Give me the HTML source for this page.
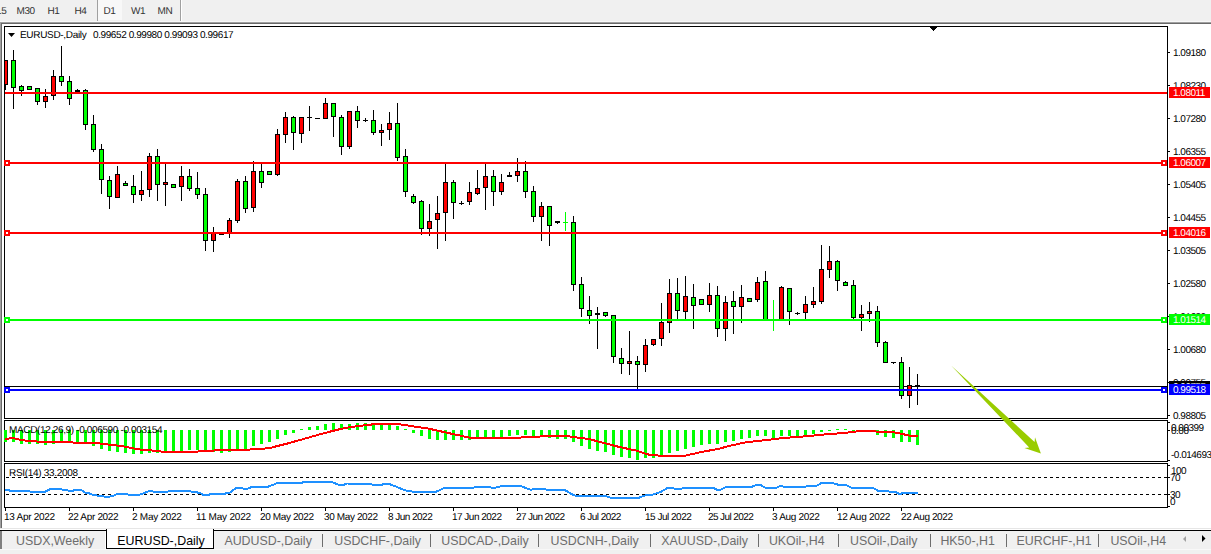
<!DOCTYPE html>
<html><head><meta charset="utf-8"><style>
html,body{margin:0;padding:0}
body{width:1211px;height:554px;position:relative;overflow:hidden;background:#f0f0f0;font-family:"Liberation Sans", sans-serif}
.t{position:absolute;white-space:nowrap;line-height:12px;font-family:"Liberation Sans", sans-serif;text-rendering:geometricPrecision}
.box{position:absolute;left:1169px;width:41px;height:11px;overflow:hidden}
.box span{position:absolute;left:4px;top:1px;text-rendering:geometricPrecision;font-size:10px;letter-spacing:-0.5px;line-height:12px;color:#fff;white-space:nowrap}
.tab{position:absolute;top:534px;font-size:12.4px;line-height:15px;color:#6d6d6d;white-space:nowrap}
svg{position:absolute;left:0;top:0}
</style></head><body>
<div style="position:absolute;left:97px;top:0;width:1px;height:21px;background:#a0a0a0"></div>
<div style="position:absolute;left:98px;top:0;width:24px;height:20px;background:#f8f8f8"></div>
<div style="position:absolute;left:180px;top:0;width:1px;height:21px;background:#a0a0a0"></div>
<div style="position:absolute;left:181px;top:0;width:1px;height:21px;background:#fff"></div>
<div style="position:absolute;left:0;top:21px;width:1211px;height:1px;background:#f8f8f8"></div>
<div style="position:absolute;left:0;top:22px;width:1211px;height:1px;background:#a0a0a0"></div>
<div style="position:absolute;left:1px;top:23px;width:1210px;height:1px;background:#696969"></div>
<div style="position:absolute;left:0;top:22px;width:1px;height:506px;background:#a0a0a0"></div>
<div style="position:absolute;left:1px;top:23px;width:1px;height:505px;background:#696969"></div>
<div style="position:absolute;left:2px;top:24px;width:1209px;height:504px;background:#fff"></div>
<div style="position:absolute;left:0;top:528px;width:1211px;height:1px;background:#e6e6e6"></div>
<div style="position:absolute;left:0;top:529px;width:1211px;height:1px;background:#fff"></div>
<div style="position:absolute;left:0;top:530px;width:1211px;height:1px;background:#000"></div>
<div style="position:absolute;left:0;top:531px;width:2px;height:18px;background:#808080"></div>
<div style="position:absolute;left:105px;top:531px;width:1px;height:18px;background:#fff"></div>
<div style="position:absolute;left:0;top:549px;width:1211px;height:1px;background:#f8f8f8"></div>
<div style="position:absolute;left:106px;top:529px;width:108px;height:20px;background:#000"></div>
<div style="position:absolute;left:107px;top:529px;width:106px;height:19px;background:#fff"></div>
<div class="tab" style="left:117.3px;color:#000">EURUSD-,Daily</div>
<div class="tab" style="left:16px">USDX,Weekly</div><div class="tab" style="left:224.4px">AUDUSD-,Daily</div><div class="tab" style="left:334.2px">USDCHF-,Daily</div><div class="tab" style="left:441.2px">USDCAD-,Daily</div><div class="tab" style="left:550.6px">USDCNH-,Daily</div><div class="tab" style="left:661.3px">XAUUSD-,Daily</div><div class="tab" style="left:768.9px">UKOil-,H4</div><div class="tab" style="left:850px">USOil-,Daily</div><div class="tab" style="left:940.4px">HK50-,H1</div><div class="tab" style="left:1016.5px">EURCHF-,H1</div><div class="tab" style="left:1110.4px">USOil-,H4</div><div style="position:absolute;left:322px;top:534px;width:1px;height:13px;background:#6d6d6d"></div><div style="position:absolute;left:430px;top:534px;width:1px;height:13px;background:#6d6d6d"></div><div style="position:absolute;left:538px;top:534px;width:1px;height:13px;background:#6d6d6d"></div><div style="position:absolute;left:650px;top:534px;width:1px;height:13px;background:#6d6d6d"></div><div style="position:absolute;left:758px;top:534px;width:1px;height:13px;background:#6d6d6d"></div><div style="position:absolute;left:838px;top:534px;width:1px;height:13px;background:#6d6d6d"></div><div style="position:absolute;left:930px;top:534px;width:1px;height:13px;background:#6d6d6d"></div><div style="position:absolute;left:1006px;top:534px;width:1px;height:13px;background:#6d6d6d"></div><div style="position:absolute;left:1098px;top:534px;width:1px;height:13px;background:#6d6d6d"></div>
<svg width="1211" height="554" viewBox="0 0 1211 554" style="shape-rendering:crispEdges">
<rect x="5" y="386" width="1162" height="1" fill="#000"/>
<rect x="5" y="60" width="1" height="30" fill="#000"/>
<rect x="4" y="60" width="4" height="25" fill="#000"/>
<rect x="4" y="61" width="3" height="23" fill="#ff0000"/>
<rect x="13" y="50" width="1" height="59" fill="#000"/>
<rect x="11" y="60" width="5" height="28" fill="#000"/>
<rect x="12" y="61" width="3" height="26" fill="#00ff00"/>
<rect x="21" y="85" width="1" height="11" fill="#000"/>
<rect x="19" y="86" width="5" height="5" fill="#000"/>
<rect x="20" y="87" width="3" height="3" fill="#00ff00"/>
<rect x="29" y="86" width="1" height="4" fill="#000"/>
<rect x="27" y="86" width="5" height="4" fill="#000"/>
<rect x="28" y="87" width="3" height="2" fill="#00ff00"/>
<rect x="37" y="88" width="1" height="17" fill="#000"/>
<rect x="35" y="88" width="5" height="14" fill="#000"/>
<rect x="36" y="89" width="3" height="12" fill="#00ff00"/>
<rect x="45" y="89" width="1" height="19" fill="#000"/>
<rect x="43" y="96" width="5" height="6" fill="#000"/>
<rect x="44" y="97" width="3" height="4" fill="#ff0000"/>
<rect x="53" y="70" width="1" height="30" fill="#000"/>
<rect x="51" y="76" width="5" height="20" fill="#000"/>
<rect x="52" y="77" width="3" height="18" fill="#ff0000"/>
<rect x="61" y="46" width="1" height="40" fill="#000"/>
<rect x="59" y="76" width="5" height="6" fill="#000"/>
<rect x="60" y="77" width="3" height="4" fill="#00ff00"/>
<rect x="69" y="76" width="1" height="29" fill="#000"/>
<rect x="67" y="81" width="5" height="18" fill="#000"/>
<rect x="68" y="82" width="3" height="16" fill="#00ff00"/>
<rect x="77" y="89" width="1" height="3" fill="#000"/>
<rect x="75" y="90" width="5" height="2" fill="#000"/>
<rect x="85" y="89" width="1" height="41" fill="#000"/>
<rect x="83" y="90" width="5" height="35" fill="#000"/>
<rect x="84" y="91" width="3" height="33" fill="#00ff00"/>
<rect x="93" y="115" width="1" height="37" fill="#000"/>
<rect x="91" y="124" width="5" height="26" fill="#000"/>
<rect x="92" y="125" width="3" height="24" fill="#00ff00"/>
<rect x="101" y="144" width="1" height="50" fill="#000"/>
<rect x="99" y="149" width="5" height="31" fill="#000"/>
<rect x="100" y="150" width="3" height="29" fill="#00ff00"/>
<rect x="109" y="176" width="1" height="33" fill="#000"/>
<rect x="107" y="180" width="5" height="17" fill="#000"/>
<rect x="108" y="181" width="3" height="15" fill="#00ff00"/>
<rect x="117" y="166" width="1" height="32" fill="#000"/>
<rect x="115" y="174" width="5" height="24" fill="#000"/>
<rect x="116" y="175" width="3" height="22" fill="#ff0000"/>
<rect x="125" y="181" width="1" height="5" fill="#000"/>
<rect x="123" y="183" width="5" height="3" fill="#000"/>
<rect x="124" y="184" width="3" height="1" fill="#00ff00"/>
<rect x="133" y="175" width="1" height="28" fill="#000"/>
<rect x="131" y="186" width="5" height="9" fill="#000"/>
<rect x="132" y="187" width="3" height="7" fill="#00ff00"/>
<rect x="141" y="171" width="1" height="30" fill="#000"/>
<rect x="139" y="190" width="5" height="5" fill="#000"/>
<rect x="140" y="191" width="3" height="3" fill="#ff0000"/>
<rect x="149" y="153" width="1" height="44" fill="#000"/>
<rect x="147" y="156" width="5" height="34" fill="#000"/>
<rect x="148" y="157" width="3" height="32" fill="#ff0000"/>
<rect x="157" y="149" width="1" height="52" fill="#000"/>
<rect x="155" y="156" width="5" height="29" fill="#000"/>
<rect x="156" y="157" width="3" height="27" fill="#00ff00"/>
<rect x="165" y="164" width="1" height="42" fill="#000"/>
<rect x="163" y="182" width="5" height="3" fill="#000"/>
<rect x="164" y="183" width="3" height="1" fill="#ff0000"/>
<rect x="173" y="184" width="1" height="4" fill="#000"/>
<rect x="171" y="184" width="5" height="4" fill="#000"/>
<rect x="172" y="185" width="3" height="2" fill="#00ff00"/>
<rect x="181" y="166" width="1" height="35" fill="#000"/>
<rect x="179" y="176" width="5" height="11" fill="#000"/>
<rect x="180" y="177" width="3" height="9" fill="#ff0000"/>
<rect x="189" y="169" width="1" height="22" fill="#000"/>
<rect x="187" y="176" width="5" height="13" fill="#000"/>
<rect x="188" y="177" width="3" height="11" fill="#00ff00"/>
<rect x="197" y="172" width="1" height="27" fill="#000"/>
<rect x="195" y="188" width="5" height="7" fill="#000"/>
<rect x="196" y="189" width="3" height="5" fill="#00ff00"/>
<rect x="205" y="188" width="1" height="63" fill="#000"/>
<rect x="203" y="194" width="5" height="47" fill="#000"/>
<rect x="204" y="195" width="3" height="45" fill="#00ff00"/>
<rect x="213" y="227" width="1" height="25" fill="#000"/>
<rect x="211" y="233" width="5" height="8" fill="#000"/>
<rect x="212" y="234" width="3" height="6" fill="#ff0000"/>
<rect x="221" y="233" width="1" height="2" fill="#000"/>
<rect x="219" y="234" width="5" height="1" fill="#000"/>
<rect x="229" y="218" width="1" height="20" fill="#000"/>
<rect x="227" y="220" width="5" height="14" fill="#000"/>
<rect x="228" y="221" width="3" height="12" fill="#ff0000"/>
<rect x="237" y="179" width="1" height="44" fill="#000"/>
<rect x="235" y="181" width="5" height="40" fill="#000"/>
<rect x="236" y="182" width="3" height="38" fill="#ff0000"/>
<rect x="245" y="176" width="1" height="37" fill="#000"/>
<rect x="243" y="181" width="5" height="28" fill="#000"/>
<rect x="244" y="182" width="3" height="26" fill="#00ff00"/>
<rect x="253" y="161" width="1" height="51" fill="#000"/>
<rect x="251" y="171" width="5" height="37" fill="#000"/>
<rect x="252" y="172" width="3" height="35" fill="#ff0000"/>
<rect x="261" y="164" width="1" height="24" fill="#000"/>
<rect x="259" y="171" width="5" height="12" fill="#000"/>
<rect x="260" y="172" width="3" height="10" fill="#00ff00"/>
<rect x="269" y="171" width="1" height="4" fill="#000"/>
<rect x="267" y="171" width="5" height="4" fill="#000"/>
<rect x="268" y="172" width="3" height="2" fill="#00ff00"/>
<rect x="277" y="129" width="1" height="47" fill="#000"/>
<rect x="275" y="134" width="5" height="41" fill="#000"/>
<rect x="276" y="135" width="3" height="39" fill="#ff0000"/>
<rect x="285" y="112" width="1" height="31" fill="#000"/>
<rect x="283" y="117" width="5" height="18" fill="#000"/>
<rect x="284" y="118" width="3" height="16" fill="#ff0000"/>
<rect x="293" y="116" width="1" height="34" fill="#000"/>
<rect x="291" y="117" width="5" height="16" fill="#000"/>
<rect x="292" y="118" width="3" height="14" fill="#00ff00"/>
<rect x="301" y="117" width="1" height="26" fill="#000"/>
<rect x="299" y="117" width="5" height="17" fill="#000"/>
<rect x="300" y="118" width="3" height="15" fill="#ff0000"/>
<rect x="309" y="106" width="1" height="25" fill="#000"/>
<rect x="307" y="117" width="5" height="1" fill="#000"/>
<rect x="317" y="118" width="1" height="1" fill="#000"/>
<rect x="315" y="118" width="5" height="1" fill="#000"/>
<rect x="325" y="98" width="1" height="21" fill="#000"/>
<rect x="323" y="103" width="5" height="16" fill="#000"/>
<rect x="324" y="104" width="3" height="14" fill="#ff0000"/>
<rect x="333" y="103" width="1" height="34" fill="#000"/>
<rect x="331" y="103" width="5" height="14" fill="#000"/>
<rect x="332" y="104" width="3" height="12" fill="#00ff00"/>
<rect x="341" y="115" width="1" height="40" fill="#000"/>
<rect x="339" y="117" width="5" height="30" fill="#000"/>
<rect x="340" y="118" width="3" height="28" fill="#00ff00"/>
<rect x="349" y="111" width="1" height="38" fill="#000"/>
<rect x="347" y="111" width="5" height="36" fill="#000"/>
<rect x="348" y="112" width="3" height="34" fill="#ff0000"/>
<rect x="357" y="106" width="1" height="22" fill="#000"/>
<rect x="355" y="111" width="5" height="10" fill="#000"/>
<rect x="356" y="112" width="3" height="8" fill="#00ff00"/>
<rect x="365" y="118" width="1" height="4" fill="#000"/>
<rect x="363" y="120" width="5" height="1" fill="#000"/>
<rect x="373" y="110" width="1" height="25" fill="#000"/>
<rect x="371" y="120" width="5" height="13" fill="#000"/>
<rect x="372" y="121" width="3" height="11" fill="#00ff00"/>
<rect x="381" y="124" width="1" height="22" fill="#000"/>
<rect x="379" y="130" width="5" height="3" fill="#000"/>
<rect x="380" y="131" width="3" height="1" fill="#ff0000"/>
<rect x="389" y="112" width="1" height="28" fill="#000"/>
<rect x="387" y="123" width="5" height="7" fill="#000"/>
<rect x="388" y="124" width="3" height="5" fill="#ff0000"/>
<rect x="397" y="103" width="1" height="58" fill="#000"/>
<rect x="395" y="123" width="5" height="35" fill="#000"/>
<rect x="396" y="124" width="3" height="33" fill="#00ff00"/>
<rect x="405" y="149" width="1" height="48" fill="#000"/>
<rect x="403" y="156" width="5" height="36" fill="#000"/>
<rect x="404" y="157" width="3" height="34" fill="#00ff00"/>
<rect x="413" y="194" width="1" height="10" fill="#000"/>
<rect x="411" y="196" width="5" height="7" fill="#000"/>
<rect x="412" y="197" width="3" height="5" fill="#00ff00"/>
<rect x="421" y="200" width="1" height="35" fill="#000"/>
<rect x="419" y="201" width="5" height="28" fill="#000"/>
<rect x="420" y="202" width="3" height="26" fill="#00ff00"/>
<rect x="429" y="204" width="1" height="32" fill="#000"/>
<rect x="427" y="221" width="5" height="8" fill="#000"/>
<rect x="428" y="222" width="3" height="6" fill="#ff0000"/>
<rect x="437" y="196" width="1" height="53" fill="#000"/>
<rect x="435" y="213" width="5" height="7" fill="#000"/>
<rect x="436" y="214" width="3" height="5" fill="#ff0000"/>
<rect x="445" y="163" width="1" height="78" fill="#000"/>
<rect x="443" y="182" width="5" height="31" fill="#000"/>
<rect x="444" y="183" width="3" height="29" fill="#ff0000"/>
<rect x="453" y="180" width="1" height="39" fill="#000"/>
<rect x="451" y="182" width="5" height="21" fill="#000"/>
<rect x="452" y="183" width="3" height="19" fill="#00ff00"/>
<rect x="461" y="201" width="1" height="4" fill="#000"/>
<rect x="459" y="203" width="5" height="1" fill="#000"/>
<rect x="469" y="182" width="1" height="23" fill="#000"/>
<rect x="467" y="192" width="5" height="10" fill="#000"/>
<rect x="468" y="193" width="3" height="8" fill="#ff0000"/>
<rect x="477" y="170" width="1" height="25" fill="#000"/>
<rect x="475" y="188" width="5" height="6" fill="#000"/>
<rect x="476" y="189" width="3" height="4" fill="#ff0000"/>
<rect x="485" y="164" width="1" height="46" fill="#000"/>
<rect x="483" y="176" width="5" height="12" fill="#000"/>
<rect x="484" y="177" width="3" height="10" fill="#ff0000"/>
<rect x="493" y="170" width="1" height="36" fill="#000"/>
<rect x="491" y="176" width="5" height="16" fill="#000"/>
<rect x="492" y="177" width="3" height="14" fill="#00ff00"/>
<rect x="501" y="174" width="1" height="21" fill="#000"/>
<rect x="499" y="182" width="5" height="10" fill="#000"/>
<rect x="500" y="183" width="3" height="8" fill="#ff0000"/>
<rect x="509" y="172" width="1" height="5" fill="#000"/>
<rect x="507" y="175" width="5" height="2" fill="#000"/>
<rect x="517" y="158" width="1" height="24" fill="#000"/>
<rect x="515" y="171" width="5" height="5" fill="#000"/>
<rect x="516" y="172" width="3" height="3" fill="#ff0000"/>
<rect x="525" y="161" width="1" height="37" fill="#000"/>
<rect x="523" y="171" width="5" height="21" fill="#000"/>
<rect x="524" y="172" width="3" height="19" fill="#00ff00"/>
<rect x="533" y="186" width="1" height="36" fill="#000"/>
<rect x="531" y="191" width="5" height="26" fill="#000"/>
<rect x="532" y="192" width="3" height="24" fill="#00ff00"/>
<rect x="541" y="202" width="1" height="39" fill="#000"/>
<rect x="539" y="206" width="5" height="11" fill="#000"/>
<rect x="540" y="207" width="3" height="9" fill="#ff0000"/>
<rect x="549" y="206" width="1" height="40" fill="#000"/>
<rect x="547" y="206" width="5" height="20" fill="#000"/>
<rect x="548" y="207" width="3" height="18" fill="#00ff00"/>
<rect x="557" y="221" width="1" height="3" fill="#000"/>
<rect x="555" y="221" width="5" height="2" fill="#000"/>
<rect x="565" y="212" width="1" height="19" fill="#00ff00"/>
<rect x="563" y="222" width="5" height="1" fill="#00ff00"/>
<rect x="573" y="216" width="1" height="75" fill="#000"/>
<rect x="571" y="222" width="5" height="63" fill="#000"/>
<rect x="572" y="223" width="3" height="61" fill="#00ff00"/>
<rect x="581" y="277" width="1" height="40" fill="#000"/>
<rect x="579" y="284" width="5" height="25" fill="#000"/>
<rect x="580" y="285" width="3" height="23" fill="#00ff00"/>
<rect x="589" y="296" width="1" height="28" fill="#000"/>
<rect x="587" y="310" width="5" height="6" fill="#000"/>
<rect x="588" y="311" width="3" height="4" fill="#00ff00"/>
<rect x="597" y="307" width="1" height="42" fill="#000"/>
<rect x="595" y="313" width="5" height="2" fill="#000"/>
<rect x="605" y="312" width="1" height="5" fill="#000"/>
<rect x="603" y="312" width="5" height="4" fill="#000"/>
<rect x="604" y="313" width="3" height="2" fill="#00ff00"/>
<rect x="613" y="315" width="1" height="48" fill="#000"/>
<rect x="611" y="315" width="5" height="42" fill="#000"/>
<rect x="612" y="316" width="3" height="40" fill="#00ff00"/>
<rect x="621" y="348" width="1" height="26" fill="#000"/>
<rect x="619" y="358" width="5" height="6" fill="#000"/>
<rect x="620" y="359" width="3" height="4" fill="#00ff00"/>
<rect x="629" y="331" width="1" height="44" fill="#000"/>
<rect x="627" y="361" width="5" height="3" fill="#000"/>
<rect x="628" y="362" width="3" height="1" fill="#ff0000"/>
<rect x="637" y="356" width="1" height="33" fill="#000"/>
<rect x="635" y="361" width="5" height="4" fill="#000"/>
<rect x="636" y="362" width="3" height="2" fill="#00ff00"/>
<rect x="645" y="339" width="1" height="33" fill="#000"/>
<rect x="643" y="345" width="5" height="20" fill="#000"/>
<rect x="644" y="346" width="3" height="18" fill="#ff0000"/>
<rect x="653" y="339" width="1" height="7" fill="#000"/>
<rect x="651" y="339" width="5" height="6" fill="#000"/>
<rect x="652" y="340" width="3" height="4" fill="#ff0000"/>
<rect x="661" y="303" width="1" height="43" fill="#000"/>
<rect x="659" y="322" width="5" height="17" fill="#000"/>
<rect x="660" y="323" width="3" height="15" fill="#ff0000"/>
<rect x="669" y="279" width="1" height="54" fill="#000"/>
<rect x="667" y="293" width="5" height="30" fill="#000"/>
<rect x="668" y="294" width="3" height="28" fill="#ff0000"/>
<rect x="677" y="278" width="1" height="41" fill="#000"/>
<rect x="675" y="293" width="5" height="18" fill="#000"/>
<rect x="676" y="294" width="3" height="16" fill="#00ff00"/>
<rect x="685" y="276" width="1" height="43" fill="#000"/>
<rect x="683" y="296" width="5" height="16" fill="#000"/>
<rect x="684" y="297" width="3" height="14" fill="#ff0000"/>
<rect x="693" y="284" width="1" height="45" fill="#000"/>
<rect x="691" y="297" width="5" height="9" fill="#000"/>
<rect x="692" y="298" width="3" height="7" fill="#00ff00"/>
<rect x="701" y="299" width="1" height="6" fill="#000"/>
<rect x="699" y="299" width="5" height="6" fill="#000"/>
<rect x="700" y="300" width="3" height="4" fill="#00ff00"/>
<rect x="709" y="283" width="1" height="29" fill="#000"/>
<rect x="707" y="295" width="5" height="10" fill="#000"/>
<rect x="708" y="296" width="3" height="8" fill="#ff0000"/>
<rect x="717" y="286" width="1" height="51" fill="#000"/>
<rect x="715" y="295" width="5" height="34" fill="#000"/>
<rect x="716" y="296" width="3" height="32" fill="#00ff00"/>
<rect x="725" y="296" width="1" height="45" fill="#000"/>
<rect x="723" y="302" width="5" height="27" fill="#000"/>
<rect x="724" y="303" width="3" height="25" fill="#ff0000"/>
<rect x="733" y="291" width="1" height="43" fill="#000"/>
<rect x="731" y="301" width="5" height="6" fill="#000"/>
<rect x="732" y="302" width="3" height="4" fill="#00ff00"/>
<rect x="741" y="285" width="1" height="38" fill="#000"/>
<rect x="739" y="297" width="5" height="10" fill="#000"/>
<rect x="740" y="298" width="3" height="8" fill="#ff0000"/>
<rect x="749" y="298" width="1" height="4" fill="#000"/>
<rect x="747" y="298" width="5" height="4" fill="#000"/>
<rect x="748" y="299" width="3" height="2" fill="#00ff00"/>
<rect x="757" y="277" width="1" height="25" fill="#000"/>
<rect x="755" y="282" width="5" height="18" fill="#000"/>
<rect x="756" y="283" width="3" height="16" fill="#ff0000"/>
<rect x="765" y="271" width="1" height="49" fill="#000"/>
<rect x="763" y="281" width="5" height="39" fill="#000"/>
<rect x="764" y="282" width="3" height="37" fill="#00ff00"/>
<rect x="773" y="300" width="1" height="31" fill="#00ff00"/>
<rect x="771" y="320" width="5" height="1" fill="#00ff00"/>
<rect x="781" y="286" width="1" height="34" fill="#000"/>
<rect x="779" y="287" width="5" height="33" fill="#000"/>
<rect x="780" y="288" width="3" height="31" fill="#ff0000"/>
<rect x="789" y="288" width="1" height="37" fill="#000"/>
<rect x="787" y="288" width="5" height="24" fill="#000"/>
<rect x="788" y="289" width="3" height="22" fill="#00ff00"/>
<rect x="797" y="312" width="1" height="3" fill="#000"/>
<rect x="795" y="313" width="5" height="1" fill="#000"/>
<rect x="805" y="296" width="1" height="24" fill="#000"/>
<rect x="803" y="304" width="5" height="9" fill="#000"/>
<rect x="804" y="305" width="3" height="7" fill="#ff0000"/>
<rect x="813" y="287" width="1" height="21" fill="#000"/>
<rect x="811" y="301" width="5" height="4" fill="#000"/>
<rect x="812" y="302" width="3" height="2" fill="#ff0000"/>
<rect x="821" y="245" width="1" height="59" fill="#000"/>
<rect x="819" y="269" width="5" height="33" fill="#000"/>
<rect x="820" y="270" width="3" height="31" fill="#ff0000"/>
<rect x="829" y="246" width="1" height="32" fill="#000"/>
<rect x="827" y="261" width="5" height="9" fill="#000"/>
<rect x="828" y="262" width="3" height="7" fill="#ff0000"/>
<rect x="837" y="260" width="1" height="31" fill="#000"/>
<rect x="835" y="261" width="5" height="20" fill="#000"/>
<rect x="836" y="262" width="3" height="18" fill="#00ff00"/>
<rect x="845" y="281" width="1" height="5" fill="#000"/>
<rect x="843" y="282" width="5" height="4" fill="#000"/>
<rect x="844" y="283" width="3" height="2" fill="#00ff00"/>
<rect x="853" y="280" width="1" height="39" fill="#000"/>
<rect x="851" y="285" width="5" height="33" fill="#000"/>
<rect x="852" y="286" width="3" height="31" fill="#00ff00"/>
<rect x="861" y="305" width="1" height="26" fill="#000"/>
<rect x="859" y="314" width="5" height="4" fill="#000"/>
<rect x="860" y="315" width="3" height="2" fill="#ff0000"/>
<rect x="869" y="302" width="1" height="20" fill="#000"/>
<rect x="867" y="311" width="5" height="3" fill="#000"/>
<rect x="868" y="312" width="3" height="1" fill="#ff0000"/>
<rect x="877" y="306" width="1" height="41" fill="#000"/>
<rect x="875" y="311" width="5" height="32" fill="#000"/>
<rect x="876" y="312" width="3" height="30" fill="#00ff00"/>
<rect x="885" y="341" width="1" height="22" fill="#000"/>
<rect x="883" y="342" width="5" height="21" fill="#000"/>
<rect x="884" y="343" width="3" height="19" fill="#00ff00"/>
<rect x="893" y="362" width="1" height="2" fill="#000"/>
<rect x="891" y="362" width="5" height="1" fill="#000"/>
<rect x="901" y="357" width="1" height="42" fill="#000"/>
<rect x="899" y="362" width="5" height="34" fill="#000"/>
<rect x="900" y="363" width="3" height="32" fill="#00ff00"/>
<rect x="909" y="367" width="1" height="41" fill="#000"/>
<rect x="907" y="385" width="5" height="11" fill="#000"/>
<rect x="908" y="386" width="3" height="9" fill="#ff0000"/>
<rect x="917" y="374" width="1" height="31" fill="#000"/>
<rect x="915" y="385" width="5" height="2" fill="#000"/>
<rect x="5" y="92" width="1162" height="2" fill="#ff0000"/>
<rect x="5" y="162" width="1162" height="2" fill="#ff0000"/>
<rect x="5" y="232" width="1162" height="2" fill="#ff0000"/>
<rect x="5" y="319" width="1162" height="2" fill="#00ff00"/>
<rect x="5" y="389" width="1162" height="2" fill="#0000ff"/>
<rect x="4" y="26" width="1164" height="1" fill="#000"/>
<rect x="4" y="418" width="1164" height="1" fill="#000"/>
<rect x="4" y="26" width="1" height="393" fill="#000"/>
<rect x="1167" y="26" width="1" height="393" fill="#000"/>
<rect x="4" y="420" width="1164" height="1" fill="#000"/>
<rect x="4" y="461" width="1164" height="1" fill="#000"/>
<rect x="4" y="420" width="1" height="42" fill="#000"/>
<rect x="1167" y="420" width="1" height="42" fill="#000"/>
<rect x="4" y="463" width="1164" height="1" fill="#000"/>
<rect x="4" y="507" width="1164" height="1" fill="#000"/>
<rect x="4" y="463" width="1" height="45" fill="#000"/>
<rect x="1167" y="463" width="1" height="45" fill="#000"/>
<rect x="4" y="160" width="6" height="6" fill="#ff0000"/>
<rect x="6" y="162" width="2" height="2" fill="#fff"/>
<rect x="1161" y="160" width="6" height="6" fill="#ff0000"/>
<rect x="1163" y="162" width="2" height="2" fill="#fff"/>
<rect x="4" y="230" width="6" height="6" fill="#ff0000"/>
<rect x="6" y="232" width="2" height="2" fill="#fff"/>
<rect x="1161" y="230" width="6" height="6" fill="#ff0000"/>
<rect x="1163" y="232" width="2" height="2" fill="#fff"/>
<rect x="4" y="317" width="6" height="6" fill="#00ff00"/>
<rect x="6" y="319" width="2" height="2" fill="#fff"/>
<rect x="1161" y="317" width="6" height="6" fill="#00ff00"/>
<rect x="1163" y="319" width="2" height="2" fill="#fff"/>
<rect x="4" y="387" width="6" height="6" fill="#0000ff"/>
<rect x="6" y="389" width="2" height="2" fill="#fff"/>
<rect x="1161" y="387" width="6" height="6" fill="#0000ff"/>
<rect x="1163" y="389" width="2" height="2" fill="#fff"/>
<rect x="4" y="430" width="3" height="12" fill="#00ff00"/>
<rect x="12" y="430" width="3" height="12" fill="#00ff00"/>
<rect x="20" y="430" width="3" height="14" fill="#00ff00"/>
<rect x="28" y="430" width="3" height="14" fill="#00ff00"/>
<rect x="36" y="430" width="3" height="14" fill="#00ff00"/>
<rect x="44" y="430" width="3" height="15" fill="#00ff00"/>
<rect x="52" y="430" width="3" height="14" fill="#00ff00"/>
<rect x="60" y="430" width="3" height="11" fill="#00ff00"/>
<rect x="68" y="430" width="3" height="11" fill="#00ff00"/>
<rect x="76" y="430" width="3" height="12" fill="#00ff00"/>
<rect x="84" y="430" width="3" height="12" fill="#00ff00"/>
<rect x="92" y="430" width="3" height="16" fill="#00ff00"/>
<rect x="100" y="430" width="3" height="19" fill="#00ff00"/>
<rect x="108" y="430" width="3" height="21" fill="#00ff00"/>
<rect x="116" y="430" width="3" height="22" fill="#00ff00"/>
<rect x="124" y="430" width="3" height="23" fill="#00ff00"/>
<rect x="132" y="430" width="3" height="24" fill="#00ff00"/>
<rect x="140" y="430" width="3" height="24" fill="#00ff00"/>
<rect x="148" y="430" width="3" height="23" fill="#00ff00"/>
<rect x="156" y="430" width="3" height="23" fill="#00ff00"/>
<rect x="164" y="430" width="3" height="22" fill="#00ff00"/>
<rect x="172" y="430" width="3" height="21" fill="#00ff00"/>
<rect x="180" y="430" width="3" height="21" fill="#00ff00"/>
<rect x="188" y="430" width="3" height="20" fill="#00ff00"/>
<rect x="196" y="430" width="3" height="20" fill="#00ff00"/>
<rect x="204" y="430" width="3" height="20" fill="#00ff00"/>
<rect x="212" y="430" width="3" height="22" fill="#00ff00"/>
<rect x="220" y="430" width="3" height="23" fill="#00ff00"/>
<rect x="228" y="430" width="3" height="22" fill="#00ff00"/>
<rect x="236" y="430" width="3" height="19" fill="#00ff00"/>
<rect x="244" y="430" width="3" height="19" fill="#00ff00"/>
<rect x="252" y="430" width="3" height="16" fill="#00ff00"/>
<rect x="260" y="430" width="3" height="14" fill="#00ff00"/>
<rect x="268" y="430" width="3" height="12" fill="#00ff00"/>
<rect x="276" y="430" width="3" height="9" fill="#00ff00"/>
<rect x="284" y="430" width="3" height="5" fill="#00ff00"/>
<rect x="292" y="430" width="3" height="3" fill="#00ff00"/>
<rect x="300" y="429" width="3" height="1" fill="#00ff00"/>
<rect x="308" y="427" width="3" height="3" fill="#00ff00"/>
<rect x="316" y="426" width="3" height="4" fill="#00ff00"/>
<rect x="324" y="424" width="3" height="6" fill="#00ff00"/>
<rect x="332" y="423" width="3" height="7" fill="#00ff00"/>
<rect x="340" y="424" width="3" height="6" fill="#00ff00"/>
<rect x="348" y="424" width="3" height="6" fill="#00ff00"/>
<rect x="356" y="423" width="3" height="7" fill="#00ff00"/>
<rect x="364" y="423" width="3" height="7" fill="#00ff00"/>
<rect x="372" y="425" width="3" height="5" fill="#00ff00"/>
<rect x="380" y="425" width="3" height="5" fill="#00ff00"/>
<rect x="388" y="425" width="3" height="5" fill="#00ff00"/>
<rect x="396" y="426" width="3" height="4" fill="#00ff00"/>
<rect x="404" y="429" width="3" height="1" fill="#00ff00"/>
<rect x="412" y="430" width="3" height="3" fill="#00ff00"/>
<rect x="420" y="430" width="3" height="6" fill="#00ff00"/>
<rect x="428" y="430" width="3" height="9" fill="#00ff00"/>
<rect x="436" y="430" width="3" height="10" fill="#00ff00"/>
<rect x="444" y="430" width="3" height="10" fill="#00ff00"/>
<rect x="452" y="430" width="3" height="10" fill="#00ff00"/>
<rect x="460" y="430" width="3" height="10" fill="#00ff00"/>
<rect x="468" y="430" width="3" height="10" fill="#00ff00"/>
<rect x="476" y="430" width="3" height="7" fill="#00ff00"/>
<rect x="484" y="430" width="3" height="7" fill="#00ff00"/>
<rect x="492" y="430" width="3" height="7" fill="#00ff00"/>
<rect x="500" y="430" width="3" height="7" fill="#00ff00"/>
<rect x="508" y="430" width="3" height="6" fill="#00ff00"/>
<rect x="516" y="430" width="3" height="5" fill="#00ff00"/>
<rect x="524" y="430" width="3" height="5" fill="#00ff00"/>
<rect x="532" y="430" width="3" height="6" fill="#00ff00"/>
<rect x="540" y="430" width="3" height="5" fill="#00ff00"/>
<rect x="548" y="430" width="3" height="8" fill="#00ff00"/>
<rect x="556" y="430" width="3" height="9" fill="#00ff00"/>
<rect x="564" y="430" width="3" height="9" fill="#00ff00"/>
<rect x="572" y="430" width="3" height="12" fill="#00ff00"/>
<rect x="580" y="430" width="3" height="16" fill="#00ff00"/>
<rect x="588" y="430" width="3" height="19" fill="#00ff00"/>
<rect x="596" y="430" width="3" height="21" fill="#00ff00"/>
<rect x="604" y="430" width="3" height="22" fill="#00ff00"/>
<rect x="612" y="430" width="3" height="25" fill="#00ff00"/>
<rect x="620" y="430" width="3" height="27" fill="#00ff00"/>
<rect x="628" y="430" width="3" height="28" fill="#00ff00"/>
<rect x="636" y="430" width="3" height="30" fill="#00ff00"/>
<rect x="644" y="430" width="3" height="28" fill="#00ff00"/>
<rect x="652" y="430" width="3" height="28" fill="#00ff00"/>
<rect x="660" y="430" width="3" height="26" fill="#00ff00"/>
<rect x="668" y="430" width="3" height="23" fill="#00ff00"/>
<rect x="676" y="430" width="3" height="21" fill="#00ff00"/>
<rect x="684" y="430" width="3" height="19" fill="#00ff00"/>
<rect x="692" y="430" width="3" height="17" fill="#00ff00"/>
<rect x="700" y="430" width="3" height="15" fill="#00ff00"/>
<rect x="708" y="430" width="3" height="14" fill="#00ff00"/>
<rect x="716" y="430" width="3" height="14" fill="#00ff00"/>
<rect x="724" y="430" width="3" height="12" fill="#00ff00"/>
<rect x="732" y="430" width="3" height="11" fill="#00ff00"/>
<rect x="740" y="430" width="3" height="9" fill="#00ff00"/>
<rect x="748" y="430" width="3" height="8" fill="#00ff00"/>
<rect x="756" y="430" width="3" height="6" fill="#00ff00"/>
<rect x="764" y="430" width="3" height="6" fill="#00ff00"/>
<rect x="772" y="430" width="3" height="8" fill="#00ff00"/>
<rect x="780" y="430" width="3" height="6" fill="#00ff00"/>
<rect x="788" y="430" width="3" height="6" fill="#00ff00"/>
<rect x="796" y="430" width="3" height="6" fill="#00ff00"/>
<rect x="804" y="430" width="3" height="5" fill="#00ff00"/>
<rect x="812" y="430" width="3" height="4" fill="#00ff00"/>
<rect x="820" y="430" width="3" height="2" fill="#00ff00"/>
<rect x="828" y="430" width="3" height="1" fill="#00ff00"/>
<rect x="836" y="429" width="3" height="1" fill="#00ff00"/>
<rect x="844" y="429" width="3" height="1" fill="#00ff00"/>
<rect x="852" y="430" width="3" height="1" fill="#00ff00"/>
<rect x="860" y="430" width="3" height="1" fill="#00ff00"/>
<rect x="868" y="430" width="3" height="1" fill="#00ff00"/>
<rect x="876" y="430" width="3" height="5" fill="#00ff00"/>
<rect x="884" y="430" width="3" height="7" fill="#00ff00"/>
<rect x="892" y="430" width="3" height="8" fill="#00ff00"/>
<rect x="900" y="430" width="3" height="12" fill="#00ff00"/>
<rect x="908" y="430" width="3" height="12" fill="#00ff00"/>
<rect x="916" y="430" width="3" height="15" fill="#00ff00"/>
<polyline points="5,439 13,438 21,440 29,441 37,441.5 45,442 61,442 69,442 77,443 93,443 101,443.6 109,444.6 117,445.5 125,446.7 133,448.4 141,449.6 149,450.2 165,452 190,452 214,450.5 254,449.4 269,448.2 289,443.1 305,438.6 322,433.7 338,429.6 350,427.1 375,424.1 398,424.1 413,426.3 429,428.7 446,432.5 470,437.8 517,437.8 533,436.7 565,435.8 581,438.1 589,439 603,442.8 619,446.9 636,450.5 649,454.7 660,455.7 685,455.7 702,451.9 720,448.6 728,446.2 746,442.2 765,440.2 783,438 801,436.7 821,434.8 830,433.9 845,433 854,431.6 870,430.7 877,431.6 893,432.1 902,433.9 909.5,435.7 917.6,435.7" fill="none" stroke="#ff0000" stroke-width="2" stroke-linejoin="round"/>
<line x1="6" y1="477.5" x2="1167" y2="477.5" stroke="#000" stroke-width="1" stroke-dasharray="3 3"/>
<line x1="6" y1="494.5" x2="1167" y2="494.5" stroke="#000" stroke-width="1" stroke-dasharray="3 3"/>
<polyline points="5,490.1 9.1,490.1 9.9,490.9 29.3,490.9 30.1,491.7 45,491.7 47.1,490.9 50.4,488.8 61.1,488.8 62.8,490.1 72.7,490.9 74.3,489.7 80.1,489.7 82.6,490.9 85,492.6 89.2,493.4 93.3,495 100,495.9 105.7,496.7 112.3,496.4 117.3,493.9 125.5,494.2 132,495 140.4,494.5 148.6,491.2 155,491.7 165,491.7 178.4,490.9 188.3,491.2 195,492 200,493 203.3,495 209,494.7 211.5,493.7 224.7,493.7 229.7,492.6 236.3,487.9 241.2,488 244.5,488.9 247.8,488.7 251.2,487.1 267.7,486.8 274.3,484.3 277.6,483 300.7,483 304,482.1 332,482.1 338.7,484.8 343.6,484.8 347,483.5 368.4,483.8 373.4,484.8 381.6,484.8 385,483.5 389,484 396.6,486.8 404.9,490.4 413.1,491.7 436.2,491.7 444.5,487.9 449.5,488.4 469.3,488.4 477.5,486.8 489.1,487.1 492.4,487.9 497.3,487.3 502.3,486 520.5,486 530.4,489.7 537,488.9 545.2,488.9 546.9,490.1 565,490.1 573.3,495 576.6,495.9 604.8,495.9 609.8,497.5 639.5,497.5 646.1,495 652.7,494.7 661,491.7 667.6,487.9 672.5,488 675,488.9 680.8,488.9 684.1,487.6 712.2,487.6 717.1,489.7 720.4,489.7 725.4,487.3 751.8,486.8 756.8,484.6 760.1,484.8 765,487.6 776.6,487.6 779.9,486 785,486.8 804.8,486.8 808,486 816.3,486 821.3,483.1 832.8,483.1 837.8,484.6 846,485.1 851,487.6 872.5,487.6 879,491.2 895.6,491.7 898.9,493.9 905.5,492.9 917.9,492.9" fill="none" stroke="#1e90ff" stroke-width="2" stroke-linejoin="round"/>
<rect x="1168" y="52" width="2" height="1" fill="#000"/>
<rect x="1168" y="85" width="2" height="1" fill="#000"/>
<rect x="1168" y="118" width="2" height="1" fill="#000"/>
<rect x="1168" y="151" width="2" height="1" fill="#000"/>
<rect x="1168" y="184" width="2" height="1" fill="#000"/>
<rect x="1168" y="217" width="2" height="1" fill="#000"/>
<rect x="1168" y="250" width="2" height="1" fill="#000"/>
<rect x="1168" y="283" width="2" height="1" fill="#000"/>
<rect x="1168" y="316" width="2" height="1" fill="#000"/>
<rect x="1168" y="349" width="2" height="1" fill="#000"/>
<rect x="1168" y="382" width="2" height="1" fill="#000"/>
<rect x="1168" y="415" width="2" height="1" fill="#000"/>
<rect x="1168" y="422" width="2" height="1" fill="#000"/>
<rect x="1168" y="430" width="2" height="1" fill="#000"/>
<rect x="1168" y="460" width="2" height="1" fill="#000"/>
<rect x="1168" y="465" width="2" height="1" fill="#000"/>
<rect x="1168" y="477" width="2" height="1" fill="#000"/>
<rect x="1168" y="494" width="2" height="1" fill="#000"/>
<rect x="1168" y="506" width="2" height="1" fill="#000"/>
<rect x="5" y="508" width="1" height="3" fill="#000"/>
<rect x="69" y="508" width="1" height="3" fill="#000"/>
<rect x="133" y="508" width="1" height="3" fill="#000"/>
<rect x="197" y="508" width="1" height="3" fill="#000"/>
<rect x="261" y="508" width="1" height="3" fill="#000"/>
<rect x="325" y="508" width="1" height="3" fill="#000"/>
<rect x="389" y="508" width="1" height="3" fill="#000"/>
<rect x="453" y="508" width="1" height="3" fill="#000"/>
<rect x="517" y="508" width="1" height="3" fill="#000"/>
<rect x="581" y="508" width="1" height="3" fill="#000"/>
<rect x="645" y="508" width="1" height="3" fill="#000"/>
<rect x="709" y="508" width="1" height="3" fill="#000"/>
<rect x="773" y="508" width="1" height="3" fill="#000"/>
<rect x="837" y="508" width="1" height="3" fill="#000"/>
<rect x="901" y="508" width="1" height="3" fill="#000"/>
<polygon points="928,26 938,26 933,31" fill="#000"/>
</svg>
<svg width="1211" height="554" viewBox="0 0 1211 554">
<polygon points="951.1,365.4 1034.6,442.0 1035,437.3 1040.9,453.6 1024.4,447.9 1029.2,447.4" fill="#99cc00"/>
<polygon points="8,33 15,33 11.5,37" fill="#000"/>
<polygon points="1186,536 1186,542 1183,539" fill="#a0a0a0"/>
<polygon points="1202,535 1202,542 1205.5,538.5" fill="#000"/>
</svg>
<div class="t" style="left:1173px;top:48px;font-size:10px;letter-spacing:-0.5px;color:#000;">1.09180</div><div class="t" style="left:1173px;top:81px;font-size:10px;letter-spacing:-0.5px;color:#000;">1.08230</div><div class="t" style="left:1173px;top:114px;font-size:10px;letter-spacing:-0.5px;color:#000;">1.07280</div><div class="t" style="left:1173px;top:147px;font-size:10px;letter-spacing:-0.5px;color:#000;">1.06355</div><div class="t" style="left:1173px;top:180px;font-size:10px;letter-spacing:-0.5px;color:#000;">1.05405</div><div class="t" style="left:1173px;top:213px;font-size:10px;letter-spacing:-0.5px;color:#000;">1.04455</div><div class="t" style="left:1173px;top:246px;font-size:10px;letter-spacing:-0.5px;color:#000;">1.03505</div><div class="t" style="left:1173px;top:279px;font-size:10px;letter-spacing:-0.5px;color:#000;">1.02580</div><div class="t" style="left:1173px;top:312px;font-size:10px;letter-spacing:-0.5px;color:#000;">1.01630</div><div class="t" style="left:1173px;top:345px;font-size:10px;letter-spacing:-0.5px;color:#000;">1.00680</div><div class="t" style="left:1173px;top:378px;font-size:10px;letter-spacing:-0.5px;color:#000;">0.99755</div><div class="t" style="left:1173px;top:411px;font-size:10px;letter-spacing:-0.5px;color:#000;">0.98805</div><div class="t" style="left:1171px;top:423px;font-size:10px;letter-spacing:-0.5px;color:#000;">0.00399</div><div class="t" style="left:1171px;top:426px;font-size:10px;letter-spacing:-0.5px;color:#000;">0.00</div><div class="t" style="left:1171px;top:450px;font-size:10px;letter-spacing:-0.5px;color:#000;">-0.014693</div><div class="t" style="left:1171px;top:466px;font-size:10px;letter-spacing:-0.5px;color:#000;">100</div><div class="t" style="left:1170px;top:473px;font-size:10px;letter-spacing:-0.5px;color:#000;">70</div><div class="t" style="left:1170px;top:490px;font-size:10px;letter-spacing:-0.5px;color:#000;">30</div><div class="t" style="left:1170px;top:497px;font-size:10px;letter-spacing:-0.5px;color:#000;">0</div><div class="t" style="left:4px;top:512px;font-size:10px;letter-spacing:-0.28px;color:#000;">13 Apr 2022</div><div class="t" style="left:68px;top:512px;font-size:10px;letter-spacing:-0.33px;color:#000;">22 Apr 2022</div><div class="t" style="left:132px;top:512px;font-size:10px;letter-spacing:-0.26px;color:#000;">2 May 2022</div><div class="t" style="left:196px;top:512px;font-size:10px;letter-spacing:-0.19px;color:#000;">11 May 2022</div><div class="t" style="left:260px;top:512px;font-size:10px;letter-spacing:-0.38px;color:#000;">20 May 2022</div><div class="t" style="left:324px;top:512px;font-size:10px;letter-spacing:-0.38px;color:#000;">30 May 2022</div><div class="t" style="left:388px;top:512px;font-size:10px;letter-spacing:-0.53px;color:#000;">8 Jun 2022</div><div class="t" style="left:452px;top:512px;font-size:10px;letter-spacing:-0.51px;color:#000;">17 Jun 2022</div><div class="t" style="left:516px;top:512px;font-size:10px;letter-spacing:-0.61px;color:#000;">27 Jun 2022</div><div class="t" style="left:580px;top:512px;font-size:10px;letter-spacing:-0.53px;color:#000;">6 Jul 2022</div><div class="t" style="left:645px;top:512px;font-size:10px;letter-spacing:-0.49px;color:#000;">15 Jul 2022</div><div class="t" style="left:708px;top:512px;font-size:10px;letter-spacing:-0.6px;color:#000;">25 Jul 2022</div><div class="t" style="left:772px;top:512px;font-size:10px;letter-spacing:-0.3px;color:#000;">3 Aug 2022</div><div class="t" style="left:837px;top:512px;font-size:10px;letter-spacing:-0.29px;color:#000;">12 Aug 2022</div><div class="t" style="left:901px;top:512px;font-size:10px;letter-spacing:-0.42px;color:#000;">22 Aug 2022</div><div class="t" style="left:20px;top:30px;font-size:10px;letter-spacing:-0.32px;color:#000;">EURUSD-,Daily</div><div class="t" style="left:93px;top:30px;font-size:10px;letter-spacing:-0.41px;color:#000;">0.99652 0.99980 0.99093 0.99617</div><div class="t" style="left:9px;top:425px;font-size:10px;letter-spacing:-0.36px;color:#000;">MACD(12,26,9) -0.006590 -0.003154</div><div class="t" style="left:9px;top:468px;font-size:10px;letter-spacing:-0.31px;color:#000;">RSI(14) 33.2008</div><div class="t" style="left:-4px;top:6px;font-size:10px;letter-spacing:-0.4px;color:#333;">15</div><div class="t" style="left:16.5px;top:6px;font-size:10px;letter-spacing:-0.4px;color:#333;">M30</div><div class="t" style="left:47.5px;top:6px;font-size:10px;letter-spacing:-0.4px;color:#333;">H1</div><div class="t" style="left:74.5px;top:6px;font-size:10px;letter-spacing:-0.4px;color:#333;">H4</div><div class="t" style="left:103.5px;top:6px;font-size:10px;letter-spacing:-0.4px;color:#333;">D1</div><div class="t" style="left:131px;top:6px;font-size:10px;letter-spacing:-0.4px;color:#333;">W1</div><div class="t" style="left:157.5px;top:6px;font-size:10px;letter-spacing:-0.4px;color:#333;">MN</div>
<div class="box" style="top:87px;background:#ff0000"><span>1.08011</span></div><div class="box" style="top:157px;background:#ff0000"><span>1.06007</span></div><div class="box" style="top:227px;background:#ff0000"><span>1.04016</span></div><div class="box" style="top:314px;background:#00ff00"><span>1.01514</span></div><div class="box" style="top:381px;background:#000000"><span>0.99755</span></div><div class="box" style="top:384px;background:#0000ff"><span>0.99518</span></div>
</body></html>
